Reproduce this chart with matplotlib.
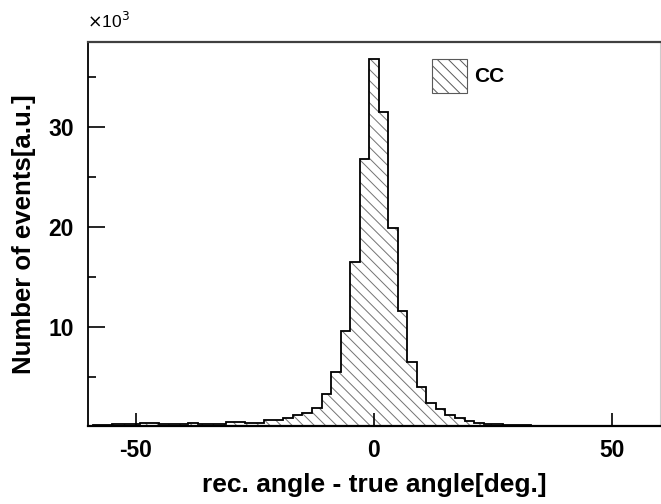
import matplotlib
matplotlib.use("Agg")
import matplotlib.pyplot as plt
import numpy as np
from matplotlib.patches import Patch
from matplotlib.ticker import MultipleLocator

# angle residual bins, 2 deg wide, centred on even values
bin_centers = np.arange(-60, 61, 2)
bin_edges = np.append(bin_centers - 1, bin_centers[-1] + 1)

counts = [
    50, 100, 100, 250, 250, 200, 350, 300, 200, 200,
    200, 300, 250, 200, 250, 400, 400, 300, 300, 600,
    650, 850, 1100, 1400, 1850, 3300, 5500, 9600, 16500, 26800,
    36800,
    31500, 19900, 11600, 6500, 4000, 2400, 1800, 1150, 800, 550,
    350, 250, 200, 150, 120, 100, 60, 50, 50, 50,
    40, 40, 40, 30, 30, 30, 30, 30, 30, 30,
]

label = "CC"
xlabel = "rec. angle - true angle[deg.]"
ylabel = "Number of events[a.u.]"

plt.rcParams["font.family"] = ["Liberation Sans", "DejaVu Sans"]
plt.rcParams["axes.unicode_minus"] = False
plt.rcParams["hatch.linewidth"] = 0.7
hatch = "\\\\\\"

fig = plt.figure(figsize=(6.61, 5.04), dpi=100)
ax = fig.add_axes([0.1331, 0.1538, 0.8654, 0.763])

vals = np.array(counts) / 1e3
ax.stairs(vals, bin_edges, fill=True, facecolor="white", edgecolor="0.45",
          hatch=hatch, linewidth=0)
ax.stairs(vals, bin_edges, fill=False, color="black", linewidth=1.3)

ax.set_xlim(-60, 60)
ax.set_ylim(0, 38.5)
ax.set_xticks([-50, 0, 50])
ax.set_yticks([10, 20, 30])
ax.yaxis.set_minor_locator(MultipleLocator(5))

ax.tick_params(axis="both", which="both", direction="in", width=1.2,
               labelsize=16.5)
ax.tick_params(axis="x", which="major", length=9.5, pad=9)
ax.tick_params(axis="y", which="major", length=12.5, pad=10)
ax.tick_params(axis="y", which="minor", length=6)
for lab in ax.get_xticklabels() + ax.get_yticklabels():
    lab.set_fontweight("bold")

ax.spines["left"].set_linewidth(1.3)
ax.spines["bottom"].set_linewidth(1.6)
ax.spines["top"].set_linewidth(1.6)
ax.spines["top"].set_color("0.25")
ax.spines["right"].set_color("0.8")

ax.set_xlabel(xlabel, fontsize=19, fontweight="bold", labelpad=8)
ax.set_ylabel(ylabel, fontsize=18.5, fontweight="bold", labelpad=9)

fig.text(0.131, 0.945, r"$\times$10$^{3}$", fontsize=12.5, ha="left", va="baseline")

handle = Patch(facecolor="white", edgecolor="0.35", hatch=hatch, linewidth=0.8)
ax.legend([handle], [label], loc="upper left", bbox_to_anchor=(0.601, 0.956),
          frameon=False, borderpad=0, borderaxespad=0, handlelength=1.68,
          handleheight=2.14, handletextpad=0.35,
          prop={"size": 15, "weight": "bold"})

fig.savefig("out.png", dpi=100)
